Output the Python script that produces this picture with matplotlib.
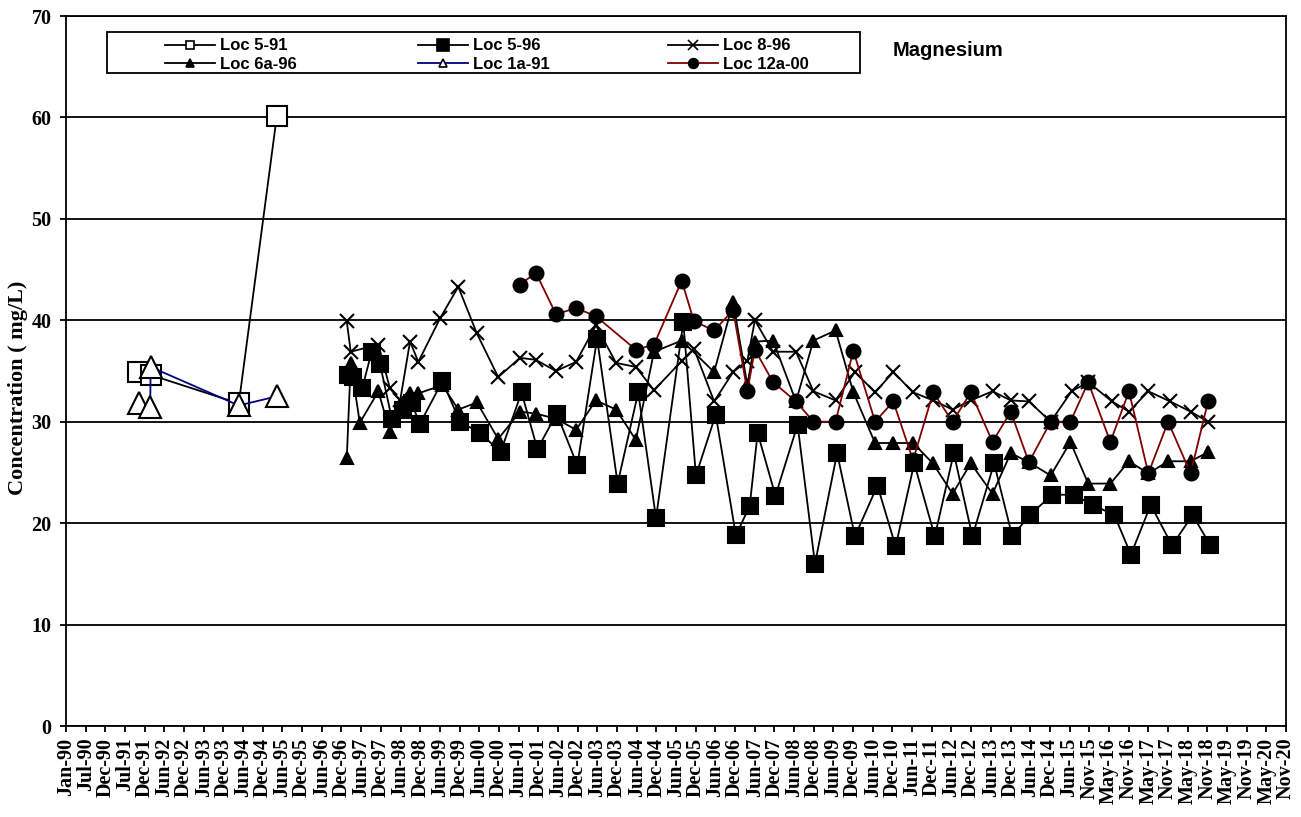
import matplotlib
matplotlib.use("Agg")
import matplotlib.pyplot as plt
from matplotlib.lines import Line2D
from matplotlib.patches import Rectangle
import numpy as np

# ---------------- data (decimal years, mg/L) ----------------
loc5_91_x = [1991.83, 1992.15, 1994.37, 1995.33]
loc5_91_y = [34.9, 34.6, 31.8, 60.1]

loc1a_91_x = [1991.85, 1992.13, 1992.14, 1994.37, 1995.33]
loc1a_91_y = [31.8, 31.5, 35.4, 31.6, 32.5]

loc5_96_x = [1997.14, 1997.26, 1997.49, 1997.73, 1997.94, 1998.24, 1998.53, 1998.74,
             1998.95, 1999.52, 1999.96, 2000.47, 2000.99, 2001.52, 2001.92, 2002.41,
             2002.93, 2003.43, 2003.95, 2004.47, 2004.92, 2005.61, 2005.93, 2006.43,
             2006.94, 2007.29, 2007.49, 2007.94, 2008.50, 2008.94, 2009.50, 2009.95,
             2010.52, 2010.98, 2011.45, 2011.97, 2012.45, 2012.92, 2013.47, 2013.93,
             2014.37, 2014.94, 2015.49, 2015.96, 2016.51, 2016.93, 2017.43, 2017.97,
             2018.49, 2018.94]
loc5_96_y = [34.6, 34.4, 33.3, 36.9, 35.7, 30.3, 31.2, 31.8,
             29.8, 34.0, 30.0, 28.9, 27.0, 32.9, 27.3, 30.8,
             25.7, 38.2, 23.9, 32.9, 20.5, 39.8, 24.7, 30.7,
             18.8, 21.7, 28.9, 22.7, 29.7, 16.0, 26.9, 18.7,
             23.7, 17.7, 25.9, 18.7, 26.9, 18.7, 25.9, 18.7,
             20.8, 22.8, 22.8, 21.8, 20.8, 16.9, 21.8, 17.8,
             20.8, 17.8]

loc8_96_x = [1997.10, 1997.20, 1997.90, 1998.19, 1998.45, 1998.70, 1998.91, 1999.46,
             1999.92, 2000.39, 2000.93, 2001.48, 2001.88, 2002.39, 2002.90, 2003.40,
             2003.91, 2004.41, 2004.87, 2005.57, 2005.88, 2006.39, 2006.87, 2007.23,
             2007.42, 2007.88, 2008.46, 2008.90, 2009.46, 2009.95, 2010.46, 2010.92,
             2011.42, 2011.93, 2012.42, 2012.88, 2013.43, 2013.89, 2014.35, 2014.90,
             2015.43, 2015.85, 2016.45, 2016.88, 2017.37, 2017.92, 2018.44, 2018.88]
loc8_96_y = [39.9, 36.9, 37.6, 33.3, 32.1, 37.9, 35.9, 40.2,
             43.3, 38.7, 34.4, 36.3, 36.1, 35.0, 35.9, 39.5,
             35.8, 35.4, 33.1, 36.0, 37.2, 32.0, 34.9, 36.0,
             40.0, 36.9, 36.9, 33.0, 32.1, 34.9, 32.9, 34.9,
             32.9, 32.1, 31.2, 32.1, 33.0, 32.1, 32.0, 30.0,
             33.0, 33.9, 32.0, 31.0, 33.0, 32.0, 31.0, 30.0]

loc6a_96_x = [1997.10, 1997.20, 1997.43, 1997.90, 1998.19, 1998.49, 1998.70, 1998.91,
              1999.52, 1999.92, 2000.39, 2000.93, 2001.48, 2001.88, 2002.39, 2002.90,
              2003.40, 2003.91, 2004.41, 2004.87, 2005.57, 2006.39, 2006.87, 2007.23,
              2007.42, 2007.88, 2008.46, 2008.90, 2009.46, 2009.91, 2010.46, 2010.92,
              2011.42, 2011.92, 2012.42, 2012.88, 2013.43, 2013.89, 2014.35, 2014.90,
              2015.40, 2015.85, 2016.41, 2016.88, 2017.37, 2017.87, 2018.44, 2018.88]
loc6a_96_y = [26.4, 35.8, 29.9, 33.0, 29.0, 31.6, 32.8, 32.8,
              33.6, 31.2, 31.9, 28.3, 31.0, 30.8, 30.3, 29.2,
              32.1, 31.2, 28.2, 36.9, 38.0, 34.9, 41.8, 33.6,
              37.9, 38.0, 32.0, 38.0, 39.0, 32.9, 27.9, 27.9,
              27.9, 25.9, 22.9, 25.9, 22.9, 26.9, 26.0, 24.7,
              28.0, 23.9, 23.9, 26.1, 24.9, 26.1, 26.1, 27.0]

loc12a_00_x = [2001.48, 2001.88, 2002.39, 2002.90, 2003.40, 2004.41, 2004.87, 2005.57,
               2005.88, 2006.39, 2006.87, 2007.23, 2007.42, 2007.88, 2008.46, 2008.90,
               2009.46, 2009.91, 2010.46, 2010.92, 2011.42, 2011.93, 2012.42, 2012.88,
               2013.43, 2013.89, 2014.35, 2014.90, 2015.40, 2015.85, 2016.41, 2016.88,
               2017.37, 2017.87, 2018.44, 2018.88]
loc12a_00_y = [43.5, 44.7, 40.6, 41.2, 40.4, 37.1, 37.6, 43.9,
               39.9, 39.0, 41.0, 33.0, 37.1, 33.9, 32.0, 30.0,
               30.0, 37.0, 30.0, 32.0, 26.2, 32.9, 30.0, 32.9,
               28.0, 31.0, 26.0, 30.0, 30.0, 33.9, 28.0, 33.0,
               24.9, 30.0, 24.9, 32.0]

tick_labels = ["Jan-90", "Jul-90", "Dec-90", "Jul-91", "Dec-91", "Jun-92", "Dec-92",
               "Jun-93", "Dec-93", "Jun-94", "Dec-94", "Jun-95", "Dec-95", "Jun-96",
               "Dec-96", "Jun-97", "Dec-97", "Jun-98", "Dec-98", "Jun-99", "Dec-99",
               "Jun-00", "Dec-00", "Jun-01", "Dec-01", "Jun-02", "Dec-02", "Jun-03",
               "Dec-03", "Jun-04", "Dec-04", "Jun-05", "Dec-05", "Jun-06", "Dec-06",
               "Jun-07", "Dec-07", "Jun-08", "Dec-08", "Jun-09", "Dec-09", "Jun-10",
               "Dec-10", "Jun-11", "Dec-11", "Jun-12", "Dec-12", "Jun-13", "Dec-13",
               "Jun-14", "Dec-14", "Jun-15", "Nov-15", "May-16", "Nov-16", "May-17",
               "Nov-17", "May-18", "Nov-18", "May-19", "Nov-19", "May-20", "Nov-20"]
tick_start = 1990.0
tick_step = 0.4976
y_ticks = [0, 10, 20, 30, 40, 50, 60, 70]

# ---------------- figure ----------------
W, H = 1301, 817
fig = plt.figure(figsize=(W / 100, H / 100), dpi=100)
fig.patch.set_facecolor("white")

def fx(px):
    return px / W

def fy(py):
    return 1 - py / H

ax = fig.add_axes([fx(66), fy(726), fx(1286) - fx(66), fy(16) - fy(726)])

serif = ["Liberation Serif", "DejaVu Serif"]
sans = ["Liberation Sans", "DejaVu Sans"]
LW = 1.3

series = [
    dict(x=loc5_91_x, y=loc5_91_y, label="Loc 5-91", color="black", marker="s",
         ms=15, mfc="white", mec="black", lms=6),
    dict(x=loc5_96_x, y=loc5_96_y, label="Loc 5-96", color="black", marker="s",
         ms=11, mfc="black", mec="black", lms=8),
    dict(x=loc8_96_x, y=loc8_96_y, label="Loc 8-96", color="black", marker="x",
         ms=10, mfc="black", mec="black", lms=7),
    dict(x=loc6a_96_x, y=loc6a_96_y, label="Loc 6a-96", color="black", marker="^",
         ms=9, mfc="black", mec="black", lms=6),
    dict(x=loc1a_91_x, y=loc1a_91_y, label="Loc 1a-91", color="#000080", marker="^",
         ms=16, mfc="white", mec="black", lms=6),
    dict(x=loc12a_00_x, y=loc12a_00_y, label="Loc 12a-00", color="#800000", marker="o",
         ms=10, mfc="black", mec="black", lms=7),
]

for s in series:
    ax.plot(s["x"], s["y"], color=s["color"], lw=LW, marker=s["marker"],
            ms=s["ms"], mfc=s["mfc"], mec=s["mec"], mew=1.5, zorder=3)

xticks = [tick_start + i * tick_step for i in range(len(tick_labels))]
ax.set_xlim(xticks[0], xticks[-1])
ax.set_ylim(0, 70)
ax.set_xticks(xticks)
ax.set_xticklabels(tick_labels, rotation=90, fontfamily=serif, fontweight="bold",
                   fontsize=14.5)
ax.set_yticks(y_ticks)
ax.set_yticklabels([str(v) for v in y_ticks], fontfamily=serif, fontweight="bold",
                   fontsize=14.5)
ax.tick_params(axis="both", direction="out", length=4.5, width=LW, color="black")
ax.tick_params(axis="y", pad=6)
ax.tick_params(axis="x", pad=4)
ax.yaxis.grid(True, color="black", lw=LW)
ax.set_axisbelow(True)
for sp in ax.spines.values():
    sp.set_color("black")
    sp.set_linewidth(LW)

fig.text(fx(18), fy(388), "Concentration ( mg/L)", rotation=90, ha="center",
         va="center", fontfamily=serif, fontweight="bold", fontsize=16)

fig.text(fx(893), fy(50), "Magnesium", ha="left", va="center", fontfamily=sans,
         fontweight="bold", fontsize=14.5)

# legend: frame + three single-column legends
fig.add_artist(Rectangle((fx(107), fy(73)), fx(860) - fx(107), fy(32) - fy(73),
                         transform=fig.transFigure, fill=True, facecolor="white",
                         edgecolor="black", lw=LW, zorder=5))

def handle(s):
    return Line2D([0], [0], color=s["color"], lw=LW, marker=s["marker"], ms=s["lms"],
                  mfc=s["mfc"], mec=s["mec"], mew=1.2)

cols = [(157, [series[0], series[3]]), (410, [series[1], series[4]]),
        (660, [series[2], series[5]])]
for px, ss in cols:
    lg = fig.legend([handle(s) for s in ss], [s["label"] for s in ss],
                    loc="upper left", bbox_to_anchor=(fx(px), fy(30)),
                    bbox_transform=fig.transFigure, frameon=False, borderpad=0,
                    handlelength=3.0, handletextpad=0.3, labelspacing=0.2,
                    prop=dict(family=sans, weight="bold", size=12))
    lg.set_zorder(6)

fig.savefig("out.png", dpi=100, facecolor="white")
